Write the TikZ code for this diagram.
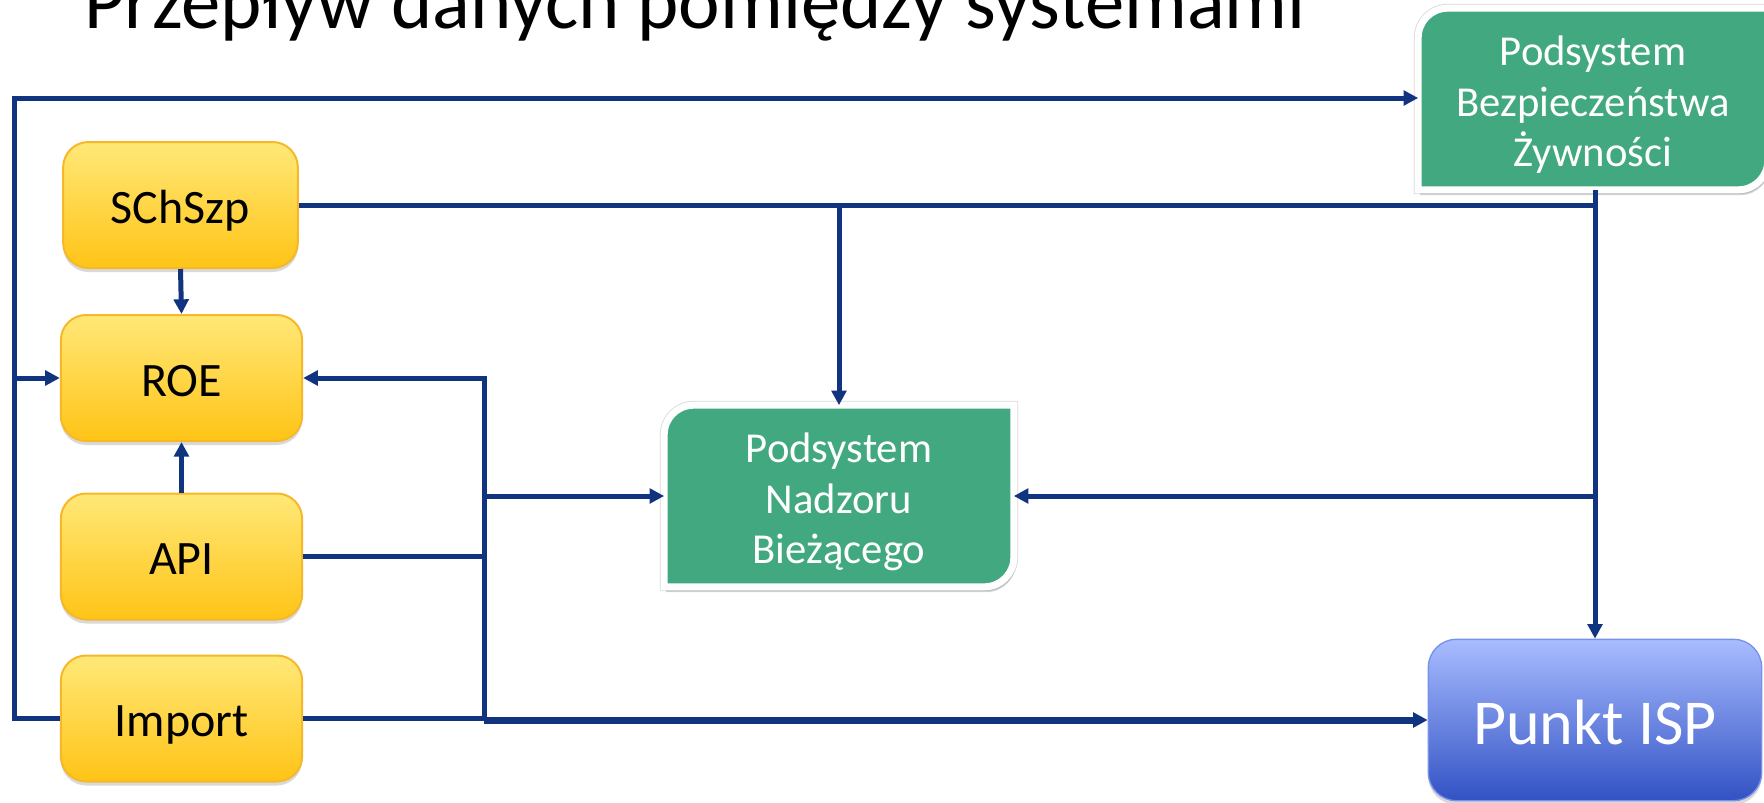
\documentclass[tikz,border=0pt]{standalone}
\usepackage{fontspec}
\setmainfont{Carlito}
\usetikzlibrary{arrows.meta,shadows,backgrounds,positioning}

\definecolor{linenavy}{RGB}{16,52,128}
\definecolor{boxgreen}{RGB}{65,168,128}
\definecolor{yellowtop}{RGB}{255,232,120}
\definecolor{yellowbot}{RGB}{255,196,22}
\definecolor{yellowedge}{RGB}{246,184,40}
\definecolor{bluetop}{RGB}{168,188,255}
\definecolor{bluebot}{RGB}{50,82,196}
\definecolor{blueedge}{RGB}{120,145,230}

\tikzset{
  flow/.style={draw=linenavy, line width=3.75pt},
  tip/.style={-{Triangle[length=11pt,width=11pt]}},
  sysbox/.style={rectangle, rounded corners=19pt, draw=yellowedge, line width=1.5pt,
    top color=yellowtop, bottom color=yellowbot, minimum width=181pt, minimum height=94.5pt,
    font=\fontsize{36}{42}\selectfont, text height=33.5pt, text depth=6.3pt,
    drop shadow={shadow xshift=0pt, shadow yshift=-3pt, opacity=0.3}},
  subbox/.style={rectangle, minimum width=257pt, minimum height=131pt, outer sep=2.6pt,
    align=center, text=white, font=\fontsize{32}{38}\selectfont},
  subback/.style={fill=boxgreen, draw=white, line width=5.25pt,
    preaction={draw=black!15, line width=6.5pt},
    drop shadow={shadow xshift=1.5pt, shadow yshift=-4pt, opacity=0.35}},
  ispbox/.style={rectangle, rounded corners=21pt, draw=blueedge, line width=1pt,
    top color=bluetop, bottom color=bluebot, minimum width=250pt, minimum height=121pt,
    text=white, font=\fontsize{48}{56}\selectfont, text height=44.6pt, text depth=8.4pt,
    drop shadow={shadow xshift=0pt, shadow yshift=-3pt, opacity=0.3}}
}

\begin{document}
\begin{tikzpicture}[x=0.75pt,y=0.75pt,yscale=-1,xscale=1]
        \useasboundingbox (0,0) rectangle (1764,803);
        %Title
        \node[anchor=base west, inner sep=0pt, font=\fontsize{59}{70}\selectfont] (title) at (84,28) {Przepływ danych pomiędzy systemami};
        %Yellow boxes
        \node[sysbox, minimum width=176pt] (schszp) at (180.5,205) {SChSzp};
        \node[sysbox] (roe) at (181.5,378) {ROE};
        \node[sysbox] (api) at (181.5,556.5) {API};
        \node[sysbox] (import) at (181.5,718.5) {Import};
        %Subsystems
        \node[subbox] (nadzor) at (839,496) {\rule{0pt}{31pt}Podsystem\\Nadzoru\\Bieżącego};
        \node[subbox] (bezp) at (1593,99) {\rule{0pt}{31pt}Podsystem\\Bezpieczeństwa\\Żywności};
        \node[ispbox] (punkt) at (1595,720) {Punkt ISP};
        \begin{scope}[on background layer]
          \foreach \b in {nadzor,bezp}
            \path[subback] (\b.south west) [rounded corners=22pt] -- (\b.north west) [sharp corners] -- (\b.north east) [rounded corners=22pt] -- (\b.south east) [sharp corners] -- cycle;
        \end{scope}
        %Junction points
        \coordinate (lt) at (14,98);
        \coordinate (lm) at (14,378);
        \coordinate (lb) at (14,718.5);
        \coordinate (bus) at (484,378);
        %Straight Lines
        \draw[flow, tip] (import.west) -- (lb) -- (lt) -- (lt -| bezp.west);
        \draw[flow, tip] (lm) -- (roe.west);
        \draw[flow, tip] (schszp.south) -- (roe.north);
        \draw[flow, tip] (api.north) -- (roe.south);
        %Straight Lines
        \draw[flow] (schszp.east) -- (schszp.east -| punkt.north);
        \draw[flow, tip] (schszp.east -| nadzor.north) -- (nadzor.north);
        \draw[flow, tip] (bezp.south -| punkt.north) -- (punkt.north);
        \draw[flow, tip] (nadzor.east -| punkt.north) -- (nadzor.east);
        %Straight Lines
        \draw[flow, tip] (bus |- punkt.west) -- (bus) -- (roe.east);
        \draw[flow, tip] (bus |- nadzor.west) -- (nadzor.west);
        \draw[flow] (api.east) -- (api.east -| bus);
        \draw[flow] (import.east) -- (import.east -| bus);
        \draw[flow, line width=5.25pt, tip] (bus |- punkt.west) -- (punkt.west);
\end{tikzpicture}
\end{document}
